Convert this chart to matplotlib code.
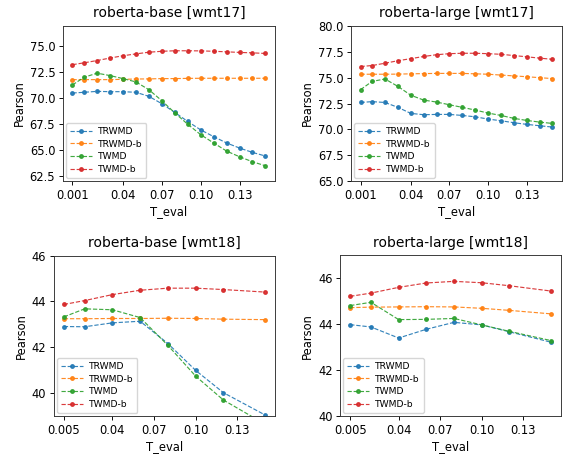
import matplotlib
matplotlib.use("Agg")
import matplotlib.pyplot as plt

# ---------------- data ----------------
series_names = ["TRWMD", "TRWMD-b", "TWMD", "TWMD-b"]

t_eval_17 = [0.001, 0.01, 0.02, 0.03, 0.04, 0.05, 0.06, 0.07, 0.08, 0.09,
             0.10, 0.11, 0.12, 0.13, 0.14, 0.15]
t_eval_18 = [0.005, 0.02, 0.04, 0.06, 0.08, 0.10, 0.12, 0.15]

base17_trwmd = [70.51, 70.58, 70.67, 70.64, 70.64, 70.58, 70.19, 69.48, 68.64, 67.77,
                66.96, 66.31, 65.70, 65.21, 64.79, 64.44]
base17_trwmd_b = [71.80, 71.80, 71.80, 71.80, 71.83, 71.86, 71.87, 71.90, 71.90, 71.92,
                  71.93, 71.93, 71.93, 71.93, 71.93, 71.93]
base17_twmd = [71.29, 72.03, 72.42, 72.19, 71.90, 71.58, 70.83, 69.77, 68.60, 67.50,
               66.50, 65.70, 64.92, 64.37, 63.89, 63.50]
base17_twmd_b = [73.24, 73.42, 73.64, 73.88, 74.10, 74.28, 74.44, 74.53, 74.58, 74.58,
                 74.57, 74.53, 74.48, 74.42, 74.38, 74.32]

large17_trwmd = [72.60, 72.68, 72.60, 72.13, 71.55, 71.42, 71.45, 71.45, 71.35, 71.22,
                 71.00, 70.84, 70.65, 70.49, 70.36, 70.23]
large17_trwmd_b = [75.32, 75.32, 75.32, 75.33, 75.36, 75.38, 75.40, 75.40, 75.40, 75.36,
                   75.32, 75.24, 75.16, 75.08, 74.99, 74.90]
large17_twmd = [73.83, 74.63, 74.86, 74.15, 73.30, 72.83, 72.64, 72.38, 72.13, 71.87,
                71.58, 71.35, 71.07, 70.87, 70.71, 70.58]
large17_twmd_b = [76.06, 76.16, 76.38, 76.62, 76.82, 77.03, 77.20, 77.30, 77.34, 77.34,
                  77.30, 77.24, 77.12, 77.00, 76.87, 76.76]

base18_trwmd = [42.91, 42.90, 43.07, 43.14, 42.17, 41.00, 40.03, 39.06]
base18_trwmd_b = [43.25, 43.25, 43.26, 43.26, 43.27, 43.26, 43.23, 43.21]
base18_twmd = [43.33, 43.68, 43.64, 43.30, 42.09, 40.75, 39.71, 38.66]
base18_twmd_b = [43.87, 44.04, 44.30, 44.49, 44.58, 44.58, 44.52, 44.41]

large18_trwmd = [43.98, 43.88, 43.40, 43.78, 44.08, 43.97, 43.67, 43.22]
large18_trwmd_b = [44.72, 44.74, 44.75, 44.76, 44.75, 44.69, 44.60, 44.45]
large18_twmd = [44.81, 44.95, 44.20, 44.21, 44.25, 43.97, 43.69, 43.29]
large18_twmd_b = [45.21, 45.35, 45.60, 45.79, 45.86, 45.80, 45.67, 45.44]

titles = ["roberta-base [wmt17]", "roberta-large [wmt17]",
          "roberta-base [wmt18]", "roberta-large [wmt18]"]
xticks_17 = [0.001, 0.04, 0.07, 0.10, 0.13]
xticklabels_17 = ["0.001", "0.04", "0.07", "0.10", "0.13"]
xticks_18 = [0.005, 0.04, 0.07, 0.10, 0.13]
xticklabels_18 = ["0.005", "0.04", "0.07", "0.10", "0.13"]
x_label = "T_eval"
y_label = "Pearson"

# ---------------- figure ----------------
s = 0.832
fig = plt.figure(figsize=(5.66, 4.58), dpi=100)

positions = [
    [0.111, 0.604, 0.375, 0.340],
    [0.620, 0.604, 0.373, 0.340],
    [0.095, 0.091, 0.391, 0.351],
    [0.601, 0.091, 0.390, 0.352],
]
panels = [
    (t_eval_17, [base17_trwmd, base17_trwmd_b, base17_twmd, base17_twmd_b],
     xticks_17, xticklabels_17, (62.0, 77.0), [62.5, 65.0, 67.5, 70.0, 72.5, 75.0]),
    (t_eval_17, [large17_trwmd, large17_trwmd_b, large17_twmd, large17_twmd_b],
     xticks_17, xticklabels_17, (65.0, 80.0), [65.0, 67.5, 70.0, 72.5, 75.0, 77.5, 80.0]),
    (t_eval_18, [base18_trwmd, base18_trwmd_b, base18_twmd, base18_twmd_b],
     xticks_18, xticklabels_18, (39.0, 46.0), [40, 42, 44, 46]),
    (t_eval_18, [large18_trwmd, large18_trwmd_b, large18_twmd, large18_twmd_b],
     xticks_18, xticklabels_18, (40.0, 47.0), [40, 42, 44, 46]),
]
colors = ["#1f77b4", "#ff7f0e", "#2ca02c", "#d62728"]

for pos, title, (xs, ys, xt, xtl, ylim, yt) in zip(positions, titles, panels):
    ax = fig.add_axes(pos)
    for name, yv, c in zip(series_names, ys, colors):
        ax.plot(xs, yv, linestyle="--", marker=".", color=c, label=name,
                linewidth=1.0 * s, markersize=6 * s, alpha=0.9)
    ax.set_title(title, fontsize=12 * s)
    ax.set_xlabel(x_label, fontsize=10 * s, labelpad=2)
    ax.set_ylabel(y_label, fontsize=10 * s, labelpad=3)
    ax.set_xticks(xt)
    ax.set_xticklabels(xtl)
    ax.set_yticks(yt)
    ax.set_ylim(*ylim)
    ax.tick_params(labelsize=10 * s, width=0.8 * s, length=3.5 * s, pad=3 * s)
    for sp in ax.spines.values():
        sp.set_linewidth(0.8 * s)
        sp.set_color("#333333")
    ax.legend(loc="lower left", fontsize=6.6, framealpha=0.8,
              handlelength=2.4, handletextpad=0.6, borderpad=0.45,
              labelspacing=0.4, borderaxespad=0.35)

fig.savefig("out.png", dpi=100)
